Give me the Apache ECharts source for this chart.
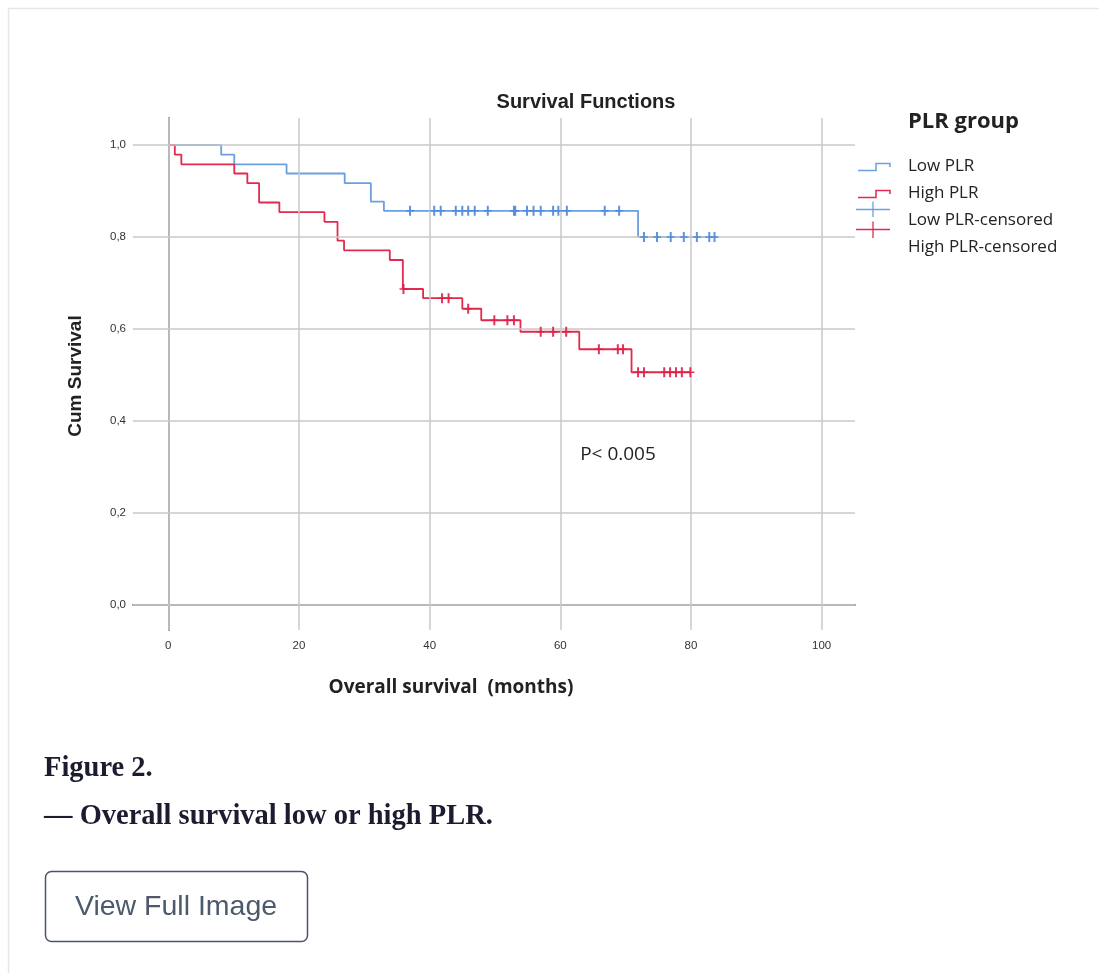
<!DOCTYPE html>
<html>
<head>
<meta charset="utf-8">
<script src="https://cdn.jsdelivr.net/npm/echarts@6/dist/echarts.min.js"></script>
<style>
html,body{margin:0;padding:0;background:#fff;}
#chart{width:1099px;height:973px;}
</style>
</head>
<body>
<div id="chart"></div>
<script>
// ---- data ----
const xTicks = [0, 20, 40, 60, 80, 100];
const yTicks = [0, 0.2, 0.4, 0.6, 0.8, 1.0];

const lowTimes = [0, 8.1, 10.1, 18.1, 27.0, 31.0, 33.0, 71.9, 84.0];
const lowSurv  = [1.0, 0.979, 0.958, 0.938, 0.917, 0.877, 0.857, 0.80, 0.80];

const highTimes = [0, 1.0, 2.0, 10.1, 12.1, 13.9, 17.0, 23.9, 25.9, 26.9, 33.9, 35.9, 39.0, 45.0, 47.9, 53.9, 62.9, 70.9, 80.0];
const highSurv  = [1.0, 0.979, 0.958, 0.938, 0.917, 0.875, 0.854, 0.833, 0.792, 0.771, 0.75, 0.687, 0.667, 0.644, 0.619, 0.594, 0.556, 0.506, 0.506];

const lowCensTimes = [37.0, 40.7, 41.7, 44.0, 45.0, 45.9, 46.9, 48.9, 52.9, 53.1, 54.9, 55.9, 57.0, 58.9, 59.7, 61.0, 66.8, 69.0,
                      72.8, 74.8, 76.9, 78.9, 80.9, 82.8, 83.6];
const lowCensSurv  = [0.857, 0.857, 0.857, 0.857, 0.857, 0.857, 0.857, 0.857, 0.857, 0.857, 0.857, 0.857, 0.857, 0.857, 0.857, 0.857, 0.857, 0.857,
                      0.80, 0.80, 0.80, 0.80, 0.80, 0.80, 0.80];

const highCensTimes = [36.0, 41.9, 42.9, 45.9, 49.9, 51.9, 52.9, 57.0, 58.9, 60.9, 65.9, 68.8, 69.6,
                       71.9, 72.8, 75.9, 76.8, 77.7, 78.6, 79.9];
const highCensSurv  = [0.687, 0.667, 0.667, 0.644, 0.619, 0.619, 0.619, 0.594, 0.594, 0.594, 0.556, 0.556, 0.556,
                       0.506, 0.506, 0.506, 0.506, 0.506, 0.506, 0.506];

const legendLabels = ['Low PLR', 'High PLR', 'Low PLR-censored', 'High PLR-censored'];

// ---- styling ----
const BLUE = '#6a9fe0';
const RED = '#e2294f';
const GRID = '#c9c9c9';
const AXIS = '#8c8c8c';
const PLUS = 'path://M-1,-5L1,-5L1,5L-1,5Z M-4,-0.8L4,-0.8L4,0.8L-4,0.8Z';

const zip = (a, b) => a.map((v, i) => [v, b[i]]);

const chart = echarts.init(document.getElementById('chart'), null, {renderer: 'canvas'});

const gridMarks = xTicks.map(v => ({xAxis: v})).concat(yTicks.map(v => ({yAxis: v})));

const option = {
  backgroundColor: '#ffffff',
  animation: false,
  grid: {left: 133, top: 118, width: 722, height: 512, containLabel: false},
  xAxis: {
    type: 'value', min: -5.4, max: 105.1,
    axisLine: {show: true, lineStyle: {color: AXIS, width: 2}},
    axisTick: {show: false},
    splitLine: {show: false},
    axisLabel: {customValues: xTicks, color: '#333', fontSize: 11.5, fontFamily: 'Liberation Sans', margin: 10}
  },
  yAxis: {
    type: 'value', min: -0.0543, max: 1.0587,
    axisLine: {show: true, lineStyle: {color: AXIS, width: 2}},
    axisTick: {show: false},
    splitLine: {show: false},
    axisLabel: {customValues: yTicks, color: '#333', fontSize: 11.5, fontFamily: 'Liberation Sans', margin: 7,
      formatter: v => v.toFixed(1).replace('.', ',')}
  },
  series: [
    {
      type: 'line', data: [], z: 1, silent: true,
      markLine: {silent: true, symbol: 'none', label: {show: false},
        lineStyle: {color: GRID, width: 1.5, type: 'solid'}, data: gridMarks, animation: false}
    },
    {type: 'line', name: legendLabels[0], step: 'end', data: zip(lowTimes, lowSurv), showSymbol: false,
      lineStyle: {color: BLUE, width: 1.8}, itemStyle: {color: BLUE}, z: 3},
    {type: 'line', name: legendLabels[1], step: 'end', data: zip(highTimes, highSurv), showSymbol: false,
      lineStyle: {color: RED, width: 1.8}, itemStyle: {color: RED}, z: 4},
    {type: 'scatter', name: legendLabels[2], data: zip(lowCensTimes, lowCensSurv), symbol: PLUS, symbolSize: [8, 10],
      itemStyle: {color: '#4f88d6', opacity: 0.9}, z: 5},
    {type: 'scatter', name: legendLabels[3], data: zip(highCensTimes, highCensSurv), symbol: PLUS, symbolSize: [8, 10],
      itemStyle: {color: '#df1f48', opacity: 0.9}, z: 6}
  ],
  graphic: [
    // page frame (top + left edges)
    {type: 'rect', shape: {x: 8.5, y: 8.5, width: 1300, height: 1300}, style: {fill: 'none', stroke: '#e3e7e9', lineWidth: 1.5}, z: 0},
    // chart title
    {type: 'text', x: 586, y: 102, style: {text: 'Survival Functions', font: 'bold 20px "Liberation Sans"', fill: '#222', align: 'center', verticalAlign: 'middle'}},
    // y axis title
    {type: 'text', x: 76, y: 376, rotation: Math.PI / 2, style: {text: 'Cum Survival', font: 'bold 19px "Liberation Sans"', fill: '#222', align: 'center', verticalAlign: 'middle'}},
    // x axis title
    {type: 'text', x: 451, y: 688, style: {text: 'Overall survival  (months)', font: 'bold 19px "Open Sans"', fill: '#222', align: 'center', verticalAlign: 'middle'}},
    // p-value
    {type: 'text', x: 618, y: 455, style: {text: 'P< 0.005', font: '19px "Open Sans"', fill: '#222', align: 'center', verticalAlign: 'middle'}},
    // legend
    {type: 'text', x: 908, y: 122, style: {text: 'PLR group', font: 'bold 22px "Open Sans"', fill: '#222', align: 'left', verticalAlign: 'middle'}},
    {type: 'polyline', shape: {points: [[858, 170.5], [876, 170.5], [876, 163.5], [890, 163.5], [890, 167]]}, style: {stroke: BLUE, lineWidth: 1.5, fill: null}},
    {type: 'polyline', shape: {points: [[858, 197.5], [876, 197.5], [876, 190.5], [890, 190.5], [890, 194]]}, style: {stroke: RED, lineWidth: 1.5, fill: null}},
    {type: 'line', shape: {x1: 856, y1: 209.5, x2: 890, y2: 209.5}, style: {stroke: BLUE, lineWidth: 1.3}},
    {type: 'line', shape: {x1: 873, y1: 201.5, x2: 873, y2: 217}, style: {stroke: BLUE, lineWidth: 1.3}},
    {type: 'line', shape: {x1: 856, y1: 229.5, x2: 890, y2: 229.5}, style: {stroke: RED, lineWidth: 1.3}},
    {type: 'line', shape: {x1: 873, y1: 221.5, x2: 873, y2: 238}, style: {stroke: RED, lineWidth: 1.3}},
    {type: 'text', x: 908, y: 166, style: {text: legendLabels[0], font: '17px "Open Sans"', fill: '#222', align: 'left', verticalAlign: 'middle'}},
    {type: 'text', x: 908, y: 193, style: {text: legendLabels[1], font: '17px "Open Sans"', fill: '#222', align: 'left', verticalAlign: 'middle'}},
    {type: 'text', x: 908, y: 220, style: {text: legendLabels[2], font: '17px "Open Sans"', fill: '#222', align: 'left', verticalAlign: 'middle'}},
    {type: 'text', x: 908, y: 247, style: {text: legendLabels[3], font: '17px "Open Sans"', fill: '#222', align: 'left', verticalAlign: 'middle'}},
    // caption
    {type: 'text', x: 44, y: 769, style: {text: 'Figure 2.', font: 'bold 28.5px "Liberation Serif"', fill: '#1c1c30', align: 'left', verticalAlign: 'middle'}},
    {type: 'text', x: 44, y: 817, style: {text: '\u2014 Overall survival low or high PLR.', font: 'bold 28.5px "Liberation Serif"', fill: '#1c1c30', align: 'left', verticalAlign: 'middle'}},
    // button
    {type: 'rect', shape: {x: 45.5, y: 871.5, width: 262, height: 70, r: 6}, style: {fill: '#fff', stroke: '#4a5568', lineWidth: 1.5}},
    {type: 'text', x: 176, y: 907, style: {text: 'View Full Image', font: '28.5px "Liberation Sans"', fill: '#4d5a6c', align: 'center', verticalAlign: 'middle'}}
  ]
};
chart.setOption(option);
</script>
</body>
</html>
